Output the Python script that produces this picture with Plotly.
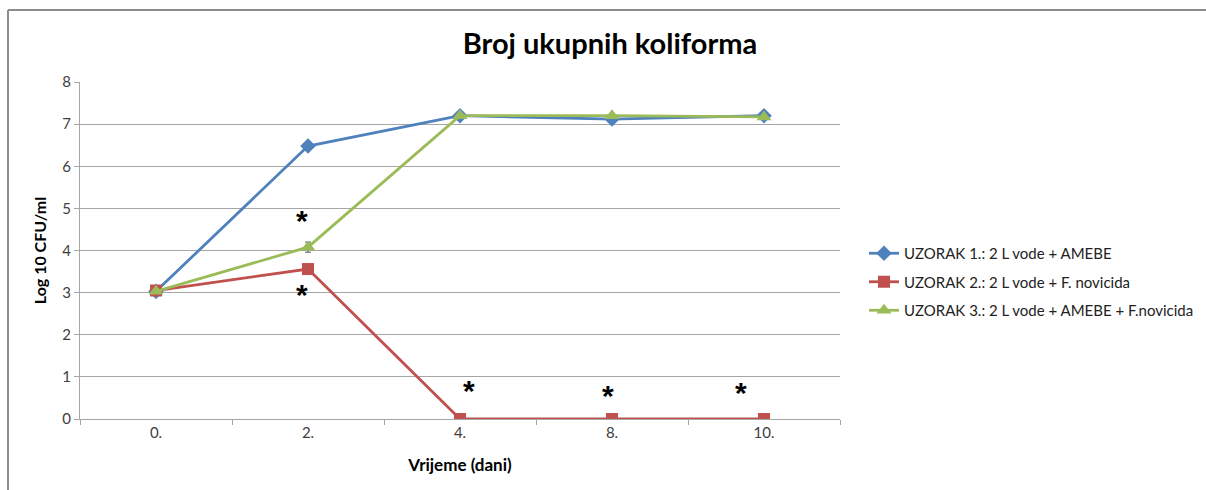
import plotly.graph_objects as go

# Sampling days (category labels on the x axis)
days = ["0.", "2.", "4.", "8.", "10."]

# Log10 CFU/ml per sample
uzorak1 = [3.03, 6.48, 7.20, 7.12, 7.20]
uzorak2 = [3.05, 3.56, 0.0, 0.0, 0.0]
uzorak3 = [3.03, 4.08, 7.20, 7.20, 7.17]
uzorak3_err = [0.0, 0.12, 0.0, 0.0, 0.0]

names = [
    "UZORAK 1.: 2 L vode + AMEBE",
    "UZORAK 2.: 2 L vode + F. novicida",
    "UZORAK 3.: 2 L vode + AMEBE + F.novicida",
]

# Significance marks: (day, y value, horizontal shift in px)
stars_day = ["2.", "2.", "4.", "8.", "10."]
stars_y = [4.78, 3.02, 0.74, 0.64, 0.71]
stars_shift = [-6, -6, 9, -4, -23]

FONT = "Lato"
BLUE, RED, GREEN = "#4F81BD", "#C0504D", "#9BBB59"

fig = go.Figure()
fig.add_trace(go.Scatter(
    x=days, y=uzorak1, name=names[0], mode="lines+markers", legendgroup="a",
    line=dict(color=BLUE, width=2.8),
    marker=dict(symbol="diamond", size=12, color=BLUE),
))
fig.add_trace(go.Scatter(
    x=days, y=uzorak2, name=names[1], mode="lines+markers", legendgroup="b",
    line=dict(color=RED, width=2.8),
    marker=dict(symbol="square", size=12, color=RED),
))
fig.add_trace(go.Scatter(
    x=days, y=uzorak3, name=names[2], mode="lines+markers", legendgroup="c",
    line=dict(color=GREEN, width=2.8),
    marker=dict(symbol="triangle-up", size=13, color=GREEN),
    error_y=dict(type="data", array=uzorak3_err, visible=True,
                 color="#555555", thickness=1, width=3),
))

# Category axis: place annotations by category index
for d, yv, sh in zip(stars_day, stars_y, stars_shift):
    fig.add_annotation(
        x=days.index(d), y=yv, xref="x", yref="y", text="<b>*</b>",
        showarrow=False, xshift=sh, yshift=-3,
        font=dict(family="Liberation Sans", size=30, color="black"),
        yanchor="middle",
    )

L, R, T, B = 80, 366, 82, 71
W, H = 1206, 490
pw, ph = W - L - R, H - T - B

def px_x(p):
    return (p - L) / pw

def px_y(p):
    return (H - B - p) / ph

# Outer chart frame (left and top edges)
fig.add_shape(type="line", xref="paper", yref="paper",
              x0=px_x(8), x1=px_x(8), y0=px_y(10), y1=px_y(H + 5),
              line=dict(color="#8c8c8c", width=2))
fig.add_shape(type="line", xref="paper", yref="paper",
              x0=px_x(8), x1=px_x(W + 5), y0=px_y(10), y1=px_y(10),
              line=dict(color="#8c8c8c", width=2))

fig.update_layout(
    width=W, height=H,
    margin=dict(l=L, r=R, t=T, b=B, autoexpand=False),
    paper_bgcolor="white", plot_bgcolor="white",
    font=dict(family=FONT, color="#404040", size=15),
    title=dict(text="<b>Broj ukupnih koliforma</b>", x=px_x(610), xref="paper",
               y=1 - 44 / H, yref="container", xanchor="center", yanchor="middle",
               font=dict(family=FONT, size=29, color="black")),
    showlegend=True,
    legend=dict(x=px_x(864), y=px_y(282), xanchor="left", yanchor="middle",
                font=dict(family=FONT, size=15, color="#222222"),
                bgcolor="rgba(0,0,0,0)", itemwidth=30, tracegroupgap=6),
)
fig.update_xaxes(
    type="category", range=[-0.5, 4.5],
    showline=True, linecolor="#a6a6a6", linewidth=1,
    ticks="outside", tickson="boundaries", ticklen=5, tickcolor="#a6a6a6",
    showgrid=False, tickfont=dict(family=FONT, size=15, color="#404040"),
    title=dict(text="<b>Vrijeme (dani)</b>", standoff=19,
               font=dict(family=FONT, size=17, color="black")),
)
fig.update_yaxes(
    range=[0, 8], dtick=1, showline=True, linecolor="#a6a6a6", linewidth=1,
    ticks="outside", ticklen=5, tickcolor="#a6a6a6",
    showgrid=True, gridcolor="#a6a6a6", gridwidth=1, zeroline=False,
    tickfont=dict(family=FONT, size=15, color="#404040"),
    title=dict(text="<b>Log 10 CFU/ml</b>", standoff=11,
               font=dict(family=FONT, size=16, color="black")),
)

fig.write_html("out.html")
